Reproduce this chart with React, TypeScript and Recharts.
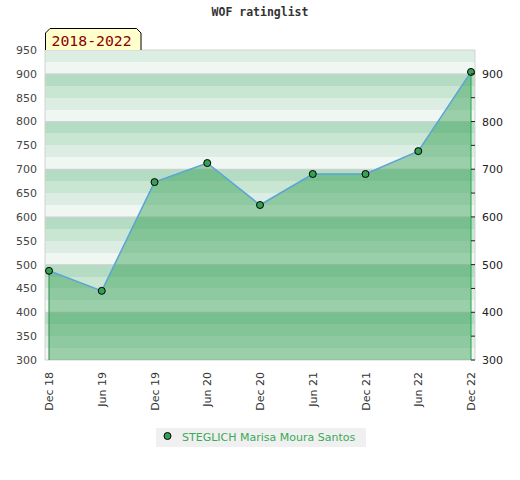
import { ComposedChart, Area, Line, XAxis, YAxis, CartesianGrid, ReferenceLine } from 'recharts';

const title = 'WOF ratinglist';
const period = '2018-2022';
const playerName = 'STEGLICH Marisa Moura Santos';

const months = ['Dec 18', 'Jun 19', 'Dec 19', 'Jun 20', 'Dec 20', 'Jun 21', 'Dec 21', 'Jun 22', 'Dec 22'];
const ratings = [487, 445, 673, 713, 625, 690, 690, 738, 904];

const yDomain = [300, 950];
const leftTicks = [300, 350, 400, 450, 500, 550, 600, 650, 700, 750, 800, 850, 900, 950];
const rightTicks = [300, 350, 400, 450, 500, 550, 600, 650, 700, 750, 800, 850, 900];
const gridValues = [300, 400, 500, 600, 700, 800, 900, 950];

const data = months.map((month, i) => ({ month, rating: ratings[i] }));

// background stripes every 25 points, four shades per hundred (listed from the top)
const bandValues = Array.from({ length: 27 }, (_, i) => 300 + i * 25);
const bandColors = ['#dcede3', '#f0f7f2', '#b3dcc2', '#c8e6d2'];

const font = '"DejaVu Sans", sans-serif';

// map rating values to pixel rows with the y axis scale
const rowsFor = (values: number[]) => (props: any) => {
  const { yAxis, offset } = props;
  if (yAxis && typeof yAxis.scale === 'function') {
    return values.map((v) => yAxis.scale(v));
  }
  return values.map((v) => offset.top + (offset.height * (yDomain[1] - v)) / (yDomain[1] - yDomain[0]));
};

const XTick = (props: any) => {
  const { x, y, payload } = props;
  return (
    <text
      transform={`translate(${x},${y + 12}) rotate(-90)`}
      textAnchor="end"
      dy={4}
      fontSize={11}
      fontFamily={font}
      fill="#333"
    >
      {payload.value}
    </text>
  );
};

const RightTick = (props: any) => {
  const { x, y, payload } = props;
  return (
    <g>
      <line x1={x - 11} x2={x - 7} y1={y} y2={y} stroke="#222" />
      {payload.value % 100 === 0 && (
        <text x={x} y={y} dy={4} fontSize={11} fontFamily={font} fill="#222">
          {payload.value}
        </text>
      )}
    </g>
  );
};

export default function App() {
  return (
    <div style={{ position: 'absolute', left: 0, top: 0, width: 520, height: 480, background: '#fff' }}>
      <div
        style={{
          position: 'absolute',
          top: 5,
          left: 0,
          width: 520,
          textAlign: 'center',
          fontFamily: '"DejaVu Sans Mono", monospace',
          fontWeight: 'bold',
          fontSize: 11.5,
          color: '#333',
        }}
      >
        {title}
      </div>

      <ComposedChart width={520} height={480} data={data} margin={{ top: 50, right: 0, left: 0, bottom: 70 }}>
        <CartesianGrid
          yAxisId="left"
          vertical={false}
          horizontalCoordinatesGenerator={rowsFor(bandValues)}
          horizontalFill={bandColors}
          fillOpacity={1}
          stroke="none"
        />
        <CartesianGrid
          yAxisId="left"
          vertical={false}
          horizontalCoordinatesGenerator={rowsFor(gridValues)}
          stroke="#d2d2d2"
          strokeWidth={1}
        />
        <XAxis
          dataKey="month"
          interval={0}
          padding={{ left: 4, right: 4 }}
          height={50}
          tickLine={false}
          axisLine={false}
          tickSize={0}
          tickMargin={0}
          tick={<XTick />}
        />
        <YAxis
          yAxisId="left"
          domain={yDomain}
          ticks={leftTicks}
          width={45}
          tickLine={false}
          axisLine={{ stroke: '#d2d2d2' }}
          tick={{ fontSize: 11, fill: '#444', fontFamily: font }}
        />
        <YAxis
          yAxisId="right"
          orientation="right"
          domain={yDomain}
          ticks={rightTicks}
          width={45}
          tickLine={false}
          axisLine={{ stroke: '#d2d2d2' }}
          tickSize={0}
          tickMargin={7}
          tick={<RightTick />}
        />
        <Area
          yAxisId="left"
          type="linear"
          dataKey="rating"
          stroke="#5ba3d9"
          strokeWidth={1.5}
          fill="rgb(35,150,69)"
          fillOpacity={0.41}
          dot={{ r: 3.5, fill: '#36a055', stroke: '#000', strokeWidth: 1, fillOpacity: 1 }}
          activeDot={false}
          isAnimationActive={false}
        />
        <Line
          yAxisId="right"
          dataKey="rating"
          stroke="none"
          dot={false}
          activeDot={false}
          legendType="none"
          isAnimationActive={false}
        />
        <ReferenceLine
          yAxisId="left"
          segment={[{ x: months[0], y: 300 }, { x: months[0], y: ratings[0] }]}
          stroke="#2e8b4a"
        />
        <ReferenceLine
          yAxisId="left"
          segment={[{ x: months[months.length - 1], y: 300 }, { x: months[months.length - 1], y: ratings[ratings.length - 1] }]}
          stroke="#22a84a"
        />
      </ComposedChart>

      <svg width={520} height={60} style={{ position: 'absolute', left: 0, top: 0, pointerEvents: 'none' }}>
        <path d="M45.5 50 L45.5 33 L50 28.5 L136.5 28.5 L141 33 L141 50 Z" fill="#ffffcc" stroke="none" />
        <path d="M45.5 50 L45.5 33 L50 28.5 L136.5 28.5 L141 33 L141 50" fill="none" stroke="#000" />
        <text x={51.5} y={45.5} fontFamily='"DejaVu Sans Mono", monospace' fontSize={14.8} fill="#8b0000">
          {period}
        </text>
      </svg>

      <div
        style={{
          position: 'absolute',
          left: 156,
          top: 428,
          width: 210,
          height: 19,
          background: '#f0f0f0',
          display: 'flex',
          alignItems: 'center',
          fontFamily: font,
          fontSize: 11,
          color: '#3aaa5a',
        }}
      >
        <svg width={26} height={19}>
          <circle cx={11.5} cy={8} r={3.5} fill="#36a055" stroke="#000" strokeWidth={1} />
        </svg>
        <span>{playerName}</span>
      </div>
    </div>
  );
}
